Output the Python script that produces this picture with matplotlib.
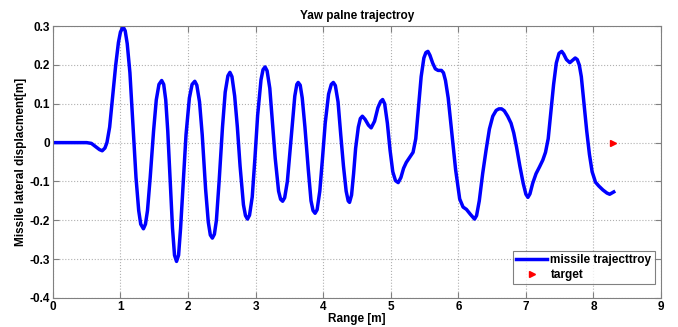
import numpy as np
import matplotlib.pyplot as plt

OUT_FILE = 'out.png'

# trajectory: range [m], lateral displacement [m]
range_m = [
    0.00, 0.30, 0.50, 0.57, 0.63, 0.69, 0.73, 0.77, 0.80, 0.84, 0.88, 0.93,
    0.97, 1.00, 1.04, 1.07, 1.10, 1.14, 1.18, 1.23, 1.27, 1.30, 1.34, 1.37,
    1.40, 1.44, 1.49, 1.53, 1.57, 1.61, 1.64, 1.67, 1.70, 1.74, 1.77, 1.80,
    1.83, 1.86, 1.89, 1.92, 1.97, 2.02, 2.06, 2.10, 2.13, 2.17, 2.21, 2.26,
    2.30, 2.33, 2.36, 2.39, 2.42, 2.46, 2.51, 2.55, 2.59, 2.62, 2.65, 2.69,
    2.73, 2.77, 2.82, 2.85, 2.88, 2.91, 2.95, 2.99, 3.03, 3.08, 3.11, 3.14,
    3.17, 3.21, 3.25, 3.29, 3.34, 3.37, 3.40, 3.43, 3.47, 3.51, 3.55, 3.58,
    3.61, 3.63, 3.66, 3.69, 3.73, 3.78, 3.82, 3.85, 3.88, 3.91, 3.95, 3.99,
    4.03, 4.08, 4.12, 4.15, 4.18, 4.22, 4.26, 4.30, 4.34, 4.37, 4.39, 4.42,
    4.45, 4.48, 4.52, 4.55, 4.58, 4.62, 4.67, 4.71, 4.76, 4.81, 4.85, 4.88,
    4.91, 4.95, 4.99, 5.03, 5.07, 5.11, 5.15, 5.19, 5.23, 5.28, 5.33, 5.37,
    5.41, 5.45, 5.49, 5.52, 5.55, 5.58, 5.62, 5.66, 5.70, 5.75, 5.78, 5.81,
    5.85, 5.90, 5.96, 6.02, 6.07, 6.12, 6.18, 6.24, 6.27, 6.31, 6.36, 6.41,
    6.46, 6.51, 6.56, 6.60, 6.64, 6.68, 6.73, 6.78, 6.82, 6.86, 6.91, 6.96,
    7.00, 7.03, 7.06, 7.10, 7.15, 7.20, 7.25, 7.29, 7.33, 7.37, 7.41, 7.45,
    7.49, 7.53, 7.56, 7.60, 7.65, 7.69, 7.73, 7.76, 7.79, 7.82, 7.86, 7.90,
    7.94, 7.98, 8.03, 8.08, 8.14, 8.20, 8.24, 8.30,
]
lateral_m = [
    0.000, 0.000, 0.000, -0.002, -0.010, -0.018, -0.021, -0.014, 0.000, 0.040, 0.110, 0.200,
    0.258, 0.285, 0.298, 0.288, 0.255, 0.180, 0.060, -0.090, -0.175, -0.210, -0.222, -0.210,
    -0.175, -0.090, 0.030, 0.110, 0.150, 0.160, 0.150, 0.110, 0.030, -0.110, -0.220, -0.290,
    -0.306, -0.290, -0.220, -0.130, 0.020, 0.115, 0.150, 0.158, 0.148, 0.105, 0.020, -0.120,
    -0.205, -0.238, -0.246, -0.236, -0.200, -0.100, 0.040, 0.130, 0.172, 0.181, 0.170, 0.120,
    0.040, -0.060, -0.160, -0.188, -0.197, -0.187, -0.140, -0.040, 0.070, 0.162, 0.188, 0.195,
    0.185, 0.140, 0.050, -0.040, -0.125, -0.146, -0.151, -0.142, -0.100, -0.020, 0.060, 0.120,
    0.150, 0.155, 0.148, 0.115, 0.040, -0.070, -0.150, -0.175, -0.182, -0.173, -0.125, -0.040,
    0.050, 0.125, 0.150, 0.155, 0.147, 0.105, 0.020, -0.060, -0.125, -0.150, -0.154, -0.135,
    -0.080, -0.015, 0.040, 0.062, 0.068, 0.060, 0.045, 0.038, 0.055, 0.090, 0.106, 0.111,
    0.100, 0.050, -0.020, -0.075, -0.098, -0.103, -0.090, -0.066, -0.051, -0.038, -0.025, 0.010,
    0.090, 0.170, 0.218, 0.232, 0.235, 0.225, 0.205, 0.190, 0.186, 0.186, 0.180, 0.160,
    0.115, 0.030, -0.070, -0.145, -0.166, -0.172, -0.185, -0.197, -0.188, -0.150, -0.080, -0.020,
    0.035, 0.068, 0.083, 0.087, 0.087, 0.082, 0.068, 0.050, 0.025, -0.010, -0.060, -0.105,
    -0.133, -0.141, -0.132, -0.105, -0.080, -0.063, -0.045, -0.025, 0.010, 0.080, 0.150, 0.205,
    0.230, 0.235, 0.228, 0.214, 0.206, 0.212, 0.218, 0.214, 0.200, 0.170, 0.100, 0.030,
    -0.030, -0.075, -0.102, -0.112, -0.122, -0.130, -0.133, -0.127,
]
target_x = [8.29]
target_y = [0.0]

plt.rcParams['font.family'] = ['Liberation Sans', 'DejaVu Sans']
plt.rcParams['font.weight'] = 'bold'

fig = plt.figure(figsize=(6.78, 3.27), dpi=100)
ax = fig.add_axes([0.078, 0.089, 0.897, 0.831])

ax.plot(range_m, lateral_m, color='#0000FF', linewidth=2.5, solid_joinstyle='round',
        label='missile trajecttroy')
ax.plot(target_x, target_y, linestyle='none', marker='>', color='red',
        markersize=4.5, label='target')

ax.set_xlim(0, 9)
ax.set_ylim(-0.4, 0.3)
ax.set_xticks(np.arange(0, 10, 1))
ax.set_yticks(np.arange(-0.4, 0.31, 0.1))
ax.set_yticklabels(['-0.4', '-0.3', '-0.2', '-0.1', '0', '0.1', '0.2', '0.3'])
ax.grid(True, linestyle=':', color='#b0b0b0', linewidth=0.8)
ax.tick_params(direction='in', labelsize=8.5, length=4, color='#808080', pad=2,
               top=True, right=True)
for lbl in ax.get_xticklabels() + ax.get_yticklabels():
    lbl.set_fontweight('bold')
for sp in ax.spines.values():
    sp.set_color('#808080')

ax.set_title('Yaw palne trajectroy', fontsize=8.5, fontweight='bold', pad=5)
ax.set_xlabel('Range [m]', fontsize=8.5, fontweight='bold', labelpad=0)
ax.set_ylabel('Missile lateral displacment[m]', fontsize=8.5, fontweight='bold', labelpad=2)

leg = ax.legend(loc='lower right', bbox_to_anchor=(0.99, 0.05), fontsize=8.5,
                frameon=True, fancybox=False, handlelength=2.6, handletextpad=0.3,
                borderpad=0.3, labelspacing=0.2, borderaxespad=0)
leg.get_frame().set_edgecolor('#606060')
leg.get_frame().set_linewidth(0.8)

fig.savefig(OUT_FILE, dpi=100)
